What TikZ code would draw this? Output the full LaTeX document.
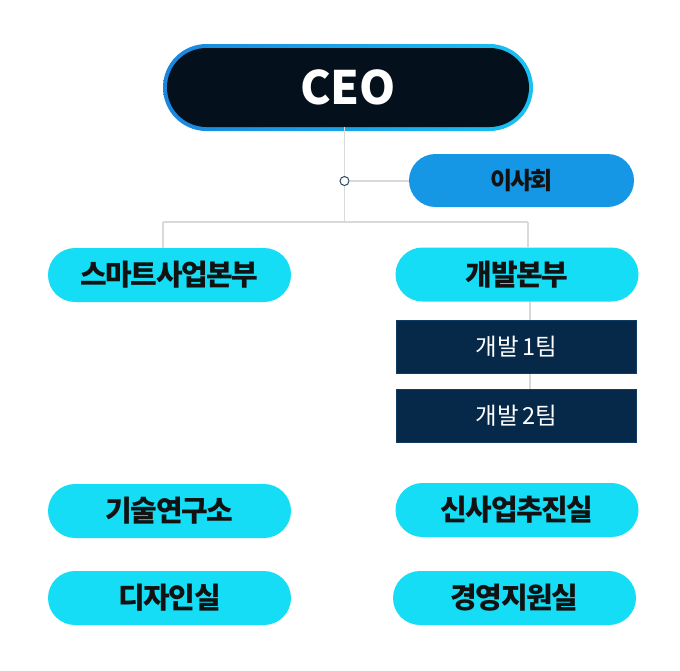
\documentclass[tikz,border=0pt]{standalone}
\usepackage{fontspec}
\setmainfont{Noto Sans CJK KR}
\newfontfamily\tightkr[LetterSpace=-5]{Noto Sans CJK KR}
\newfontfamily\boardkr[LetterSpace=-10]{Noto Sans CJK KR}
\newfontfamily\teamkr[WordSpace=0.6]{Noto Sans CJK KR}
\definecolor{pillcyan}{HTML}{14DDF5}
\definecolor{boardblue}{HTML}{1697E6}
\definecolor{ceodark}{HTML}{04101C}
\definecolor{ceoL}{HTML}{1A86DE}
\definecolor{ceoR}{HTML}{19C2F3}
\definecolor{teamfill}{HTML}{06294A}
\definecolor{teamline}{HTML}{0E3C62}
\definecolor{txtdark}{HTML}{121212}
\definecolor{conncol}{HTML}{D9D9D9}
\definecolor{dotcol}{HTML}{2A4868}
\tikzset{
  pill/.style={fill=pillcyan, rounded corners=27pt, minimum width=243pt, minimum height=54pt, inner sep=0pt, text=txtdark, font=\tightkr\fontsize{29}{33}\selectfont\bfseries},
  teambox/.style={fill=teamfill, draw=teamline, line width=1.5pt, minimum width=240pt, minimum height=53pt, inner sep=0pt, text=white, font=\teamkr\fontsize{23.5}{27}\selectfont},
  conn/.style={draw=conncol, line width=1.3pt},
}
\begin{document}
\begin{tikzpicture}[x=1pt,y=-1pt]
\useasboundingbox (0,0) rectangle (680,670);
\fill[white] (0,0) rectangle (680,670);
% CEO
\shade[left color=ceoL, right color=ceoR, rounded corners=43.5pt] (163,44) rectangle (533,131);
\node[fill=ceodark, rounded corners=39.5pt, minimum width=362pt, minimum height=79pt, inner sep=0pt, text=white, font=\fontsize{46}{50}\selectfont\bfseries] (ceo) at (348,87.5) {CEO};
% board
\node[fill=boardblue, rounded corners=26.5pt, minimum width=225pt, minimum height=53pt, inner sep=0pt, text=txtdark, font=\boardkr\fontsize{24}{28}\selectfont\bfseries] (board) at (521.5,180.5) {이사회};
% divisions
\node[pill] (smart) at (169.5,275) {스마트사업본부};
\node[pill] (dev) at (517,274.5) {개발본부};
\node[teambox] (team1) at (516.5,347) {개발 1팀};
\node[teambox] (team2) at (516.5,416) {개발 2팀};
\node[pill] (tech) at (169.5,511) {기술연구소};
\node[pill] (newbiz) at (517,510) {신사업추진실};
\node[pill] (design) at (169.5,598) {디자인실};
\node[pill] (mgmt) at (514.5,598) {경영지원실};
% connectors
\coordinate (jct) at (344.5,222);
\coordinate (lbr) at (163,222);
\coordinate (rbr) at (528,222);
\coordinate (dx) at (530,300);
\node[circle, draw=dotcol, fill=white, line width=1pt, minimum size=9pt, inner sep=0pt] (dot) at (344.5,181) {};
\draw[conn] (ceo.south -| jct) -- (dot.north);
\draw[conn] (dot.south) -- (jct);
\draw[conn] (dot.east) -- (board.west |- dot);
\draw[conn] (lbr) -- (rbr);
\draw[conn] (lbr) -- (smart.north -| lbr);
\draw[conn] (rbr) -- (dev.north -| rbr);
\draw[conn] (dev.south -| dx) -- (team1.north -| dx);
\draw[conn] (team1.south -| dx) -- (team2.north -| dx);
\end{tikzpicture}
\end{document}
